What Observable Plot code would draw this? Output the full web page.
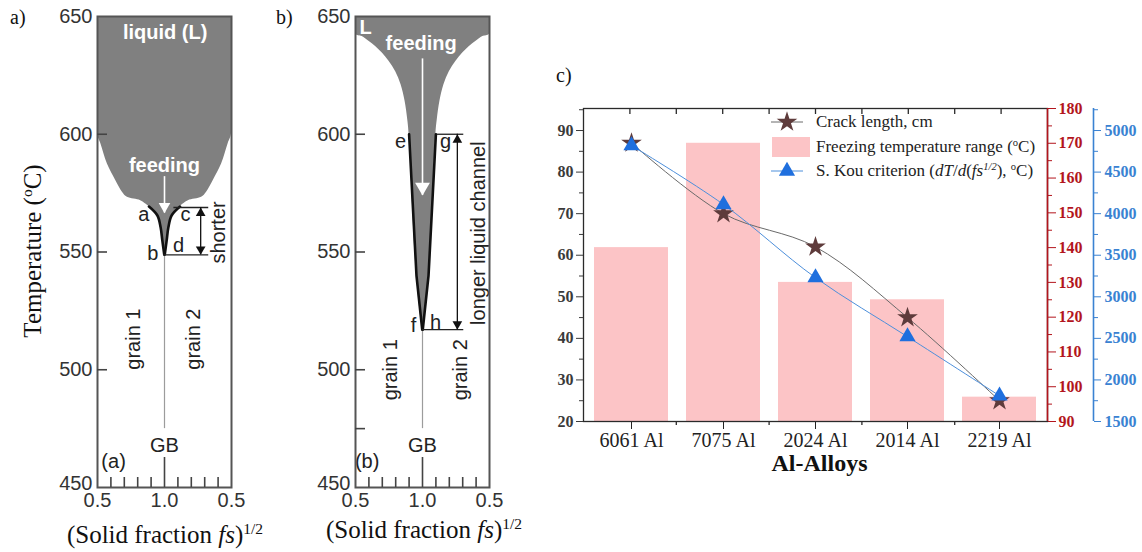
<!DOCTYPE html>
<html><head><meta charset="utf-8">
<script src="https://cdn.jsdelivr.net/npm/d3@7"></script>
<script src="https://cdn.jsdelivr.net/npm/@observablehq/plot@0.6"></script>
<style>
body{margin:0;background:#fff;}
#page{position:relative;width:1142px;height:552px;overflow:hidden;background:#fff;}
.lbl{position:absolute;font-family:"Liberation Serif","Times New Roman",serif;color:#111;white-space:nowrap;line-height:22px;}
sup{font-size:0.62em;vertical-align:0.55em;line-height:0;}
</style></head><body><div id="page"></div>
<script>
// ---------------- data ----------------
// panels a & b : temperature (°C) vs (solid fraction fs)^1/2
const tempTicks = [450, 500, 550, 600, 650];
const fsTicks = [0.5, 1.0, 1.5];            // shown as 0.5, 1.0, 0.5 (mirrored grain 2 side)
const fsMinorTicks = [0.6, 0.7, 0.8, 0.9, 1.1, 1.2, 1.3, 1.4];

// panel a: liquid boundary on grain-1 side (mirrored on grain-2 side)
const aLiquidT  = [650, 600.2, 596, 587.4, 580.4, 575.4, 573.2, 571.8, 570.4, 569.3, 565.5, 560.5, 554.8, 548.9];
const aLiquidFs = [0.5, 0.5, 0.525, 0.574, 0.636, 0.686, 0.723, 0.822, 0.86, 0.884, 0.947, 0.971, 0.984, 0.998];
const aChannelT  = [569.3, 565.5, 560.5, 554.8, 548.9];
const aChannelFs = [0.884, 0.947, 0.971, 0.984, 0.998];
const aLetters = [{t:"a", x:0.845, T:566}, {t:"c", x:1.157, T:566}, {t:"b", x:0.912, T:549.4}, {t:"d", x:1.105, T:552.7}];
const aGrains = [{t:"grain 1", x:0.772, T:513}, {t:"grain 2", x:1.217, T:513}];
const aBracket = {top:568.9, bottom:548.8, topFrom:1.07, bottomFrom:0.995, to:1.33, arrowX:1.27};

// panel b
const bLiquidT  = [650, 642.5, 641.5, 639.5, 637.3, 634.5, 631, 626.5, 621, 614, 606, 600, 540, 517];
const bLiquidFs = [0.5, 0.5, 0.55, 0.6, 0.65, 0.7, 0.75, 0.8, 0.84, 0.87, 0.89, 0.9, 0.955, 0.998];
const bChannelT  = [600, 540, 517];
const bChannelFs = [0.9, 0.955, 0.998];
const bLetters = [{t:"e", x:0.837, T:597}, {t:"g", x:1.173, T:597}, {t:"f", x:0.934, T:518.7}, {t:"h", x:1.098, T:520}];
const bGrains = [{t:"grain 1", x:0.762, T:500}, {t:"grain 2", x:1.286, T:500}];
const bBracket = {top:600, bottom:517, topFrom:1.111, bottomFrom:1.0, to:1.308, arrowX:1.26};

// panel c
const alloys = ["6061 Al", "7075 Al", "2024 Al", "2014 Al", "2219 Al"];
const crackLength   = [87, 70, 62, 45, 25];          // cm (left axis)
const freezingRange = [140, 170, 130, 125, 97];      // °C (red axis)
const kouCriterion  = [4820, 4110, 3230, 2520, 1810];// (blue axis)
const leftTicks = [20, 30, 40, 50, 60, 70, 80, 90];
const leftMinor = [25, 35, 45, 55, 65, 75, 85, 95];
const redTicks = [90, 100, 110, 120, 130, 140, 150, 160, 170, 180];
const redMinor = [95, 105, 115, 125, 135, 145, 155, 165, 175];
const blueTicks = [1500, 2000, 2500, 3000, 3500, 4000, 4500, 5000];
const blueMinor = [1750, 2250, 2750, 3250, 3750, 4250, 4750, 5250];

// ---------------- style ----------------
const RED = "#b3151d", BLUE = "#3a82d2", PINK = "#fcc4c6", GRAY = "#808080";
const serif = "'Liberation Serif', 'Times New Roman', serif";
const sans = "'Liberation Sans', Arial, Helvetica, sans-serif";
const page = document.getElementById("page");
function place(el, left, top) {
  el.style.position = "absolute"; el.style.left = left + "px"; el.style.top = (top || 0) + "px";
  page.appendChild(el); return el;
}
function html(content, left, top, extra) {
  const d = document.createElement("div");
  d.className = "lbl"; d.innerHTML = content;
  if (extra) d.style.cssText += extra;
  return place(d, left, top);
}
const tipOff = r => 1.556 * r;

function grainPanel(p) {
  const W = 280, H = 552, mt = 16, mb = 65;
  const fw = W - p.ml - p.mr, fh = H - mt - mb;
  const liquid = p.liqT.map((T, i) => ({T, left: p.liqFs[i], right: 2 - p.liqFs[i]}));
  const channel = p.chT.map((T, i) => ({T, left: p.chFs[i], right: 2 - p.chFs[i]}));
  const br = p.br;
  return Plot.plot({
    width: W, height: H, marginLeft: p.ml, marginRight: p.mr, marginTop: mt, marginBottom: mb,
    x: {domain: [0.5, 1.5], axis: null}, y: {domain: [450, 650], axis: null},
    style: {fontFamily: sans, fontSize: "20px", background: "transparent", overflow: "visible", color: "#333"},
    marks: [
      Plot.areaX(liquid, {y: "T", x1: "left", x2: "right", fill: GRAY, curve: "catmull-rom", clip: true}),
      Plot.ruleX([1], {y1: p.gb[0], y2: p.gb[1], stroke: "#9c9c9c", strokeWidth: 1.2}),
      Plot.line(channel, {x: "left", y: "T", stroke: "#111", strokeWidth: 2.6, curve: p.chCurve}),
      Plot.line(channel, {x: "right", y: "T", stroke: "#111", strokeWidth: 2.6, curve: p.chCurve}),
      // feeding arrow
      Plot.ruleX([1], {y1: p.feed[1], y2: p.feed[0], stroke: "#fff", strokeWidth: 1.6}),
      Plot.dot([p.feed[1]], {x: 1, y: d => d, symbol: "triangle", rotate: 180, fill: "#fff", r: p.headR, dy: -tipOff(p.headR)}),
      Plot.text([p.feedText], {x: "x", y: "T", text: "t", fill: "#fff", fontWeight: "bold", fontSize: 20}),
      Plot.text([p.liqText], {x: "x", y: "T", text: "t", fill: "#fff", fontWeight: "bold", fontSize: 20}),
      // bracket
      Plot.ruleY([br.top], {x1: br.topFrom, x2: br.to, stroke: "#222", strokeWidth: 1.3}),
      Plot.ruleY([br.bottom], {x1: br.bottomFrom, x2: br.to, stroke: "#222", strokeWidth: 1.3}),
      Plot.ruleX([br.arrowX], {y1: br.bottom, y2: br.top, stroke: "#111", strokeWidth: 1.3}),
      Plot.dot([br.top], {x: br.arrowX, y: d => d, symbol: "triangle", fill: "#111", r: 3.6, dy: tipOff(3.6)}),
      Plot.dot([br.bottom], {x: br.arrowX, y: d => d, symbol: "triangle", rotate: 180, fill: "#111", r: 3.6, dy: -tipOff(3.6)}),
      Plot.text([p.side], {x: "x", y: "T", text: "t", rotate: -90, fill: "#222", fontSize: 20}),
      Plot.text(p.letters, {x: "x", y: "T", text: "t", fill: "#222", fontSize: 20}),
      Plot.text(p.grains, {x: "x", y: "T", text: "t", rotate: -90, fill: "#222", fontSize: 20}),
      Plot.text([{t: "GB", x: 1, T: 467.7}, {t: p.tag, x: p.tagX, T: 461}], {x: "x", y: "T", text: "t", fill: "#222", fontSize: 20}),
      // frame & axes
      Plot.frame({stroke: "#555", strokeWidth: 2}),
      Plot.tickY(p.yTicks, {y: d => d, insetRight: fw - 10, stroke: "#444", strokeWidth: 1.6}),
      Plot.text(tempTicks.slice(1), {y: d => d, frameAnchor: "left", textAnchor: "end", dx: -5, text: d => String(d), fill: "#333", fontSize: 20}),
      Plot.text(tempTicks.slice(0, 1), {y: d => d, frameAnchor: "left", textAnchor: "end", dx: -5, dy: -4, text: d => String(d), fill: "#333", fontSize: 20}),
      Plot.tickX(fsMinorTicks, {x: d => d, insetTop: fh - 10, stroke: "#444", strokeWidth: 1.6}),
      Plot.tickX([1], {x: d => d, insetTop: fh - 30, stroke: "#444", strokeWidth: 1.6}),
      Plot.text(fsTicks, {x: d => d, frameAnchor: "bottom", dy: 19, text: d => (d <= 1 ? d : 2 - d).toFixed(1), fill: "#333", fontSize: 20})
    ]
  });
}

// panel a
place(grainPanel({
  ml: 97, mr: 49, liqT: aLiquidT, liqFs: aLiquidFs, chT: aChannelT, chFs: aChannelFs, chCurve: "catmull-rom",
  gb: [475, 549], feed: [582, 566.5], headR: 4.3,
  feedText: {t: "feeding", x: 1, T: 586.6}, liqText: {t: "liquid (L)", x: 1.005, T: 643},
  br: aBracket, side: {t: "shorter", x: 1.404, T: 558.3}, letters: aLetters, grains: aGrains,
  tag: "(a)", tagX: 0.62, yTicks: [500, 550, 600]
}), 0, 0);
// panel b
place(grainPanel({
  ml: 95, mr: 51, liqT: bLiquidT, liqFs: bLiquidFs, chT: bChannelT, chFs: bChannelFs, chCurve: "linear",
  gb: [475, 517], feed: [632, 574], headR: 5.5,
  feedText: {t: "feeding", x: 0.99, T: 638.5}, liqText: {t: "L", x: 0.575, T: 645.5},
  br: bBracket, side: {t: "longer liquid channel", x: 1.42, T: 558}, letters: bLetters, grains: bGrains,
  tag: "(b)", tagX: 0.587, yTicks: [475, 500, 550, 600]
}), 260, 0);

// panel c layers
const C = {width: 1142, height: 552, marginLeft: 583, marginRight: 95, marginTop: 108, marginBottom: 131};
const FH = C.height - C.marginTop - C.marginBottom;
const cStyle = {fontFamily: serif, background: "transparent", overflow: "visible"};
const xBand = () => ({domain: alloys, paddingInner: 0.2, paddingOuter: 0.1, axis: null, label: null});
const rows = alloys.map((a, i) => ({alloy: a, crack: crackLength[i], range: freezingRange[i], kou: kouCriterion[i]}));
const centers = alloys.map((a, i) => (i + 0.5) / alloys.length);
const bounds = d3.range(1, alloys.length).map(i => i / alloys.length);
const plain = d => String(d);

place(Plot.plot({...C, x: xBand(), y: {domain: [90, 180], axis: null, label: null}, style: cStyle,
  marks: [
    Plot.barY(rows, {x: "alloy", y1: 90, y2: "range", fill: PINK}),
    Plot.axisX({anchor: "bottom", tickSize: 8, tickPadding: 3, fontSize: 20, fontFamily: serif, color: "#222", label: null}),
    Plot.axisY(redTicks, {anchor: "right", tickSize: 8, tickPadding: 3, fontSize: 16, fontWeight: "bold", fontFamily: serif, color: RED, label: null, tickFormat: plain}),
    Plot.axisY(redMinor, {anchor: "right", tickSize: 4, tickFormat: () => "", color: RED, label: null}),
    Plot.text(["Al-Alloys"], {frameAnchor: "bottom", dx: 4, dy: 49, fontSize: 24, fontWeight: "bold", fontFamily: serif, fill: "#111"})
  ]}), 0, 0);

place(Plot.plot({...C, x: {domain: [0, 1], axis: null}, y: {domain: [0, 1], axis: null}, style: cStyle,
  marks: [
    Plot.frame({stroke: "#2a2a2a", strokeWidth: 1.3}),
    Plot.ruleX([1], {stroke: RED, strokeWidth: 1.6}),
    Plot.tickX([...centers, ...bounds], {x: d => d, insetBottom: FH - 6, stroke: "#2a2a2a", strokeWidth: 1.3}),
    Plot.tickX(bounds, {x: d => d, insetTop: FH, insetBottom: -4, stroke: "#2a2a2a", strokeWidth: 1.3})
  ]}), 0, 0);

place(Plot.plot({...C, x: xBand(), y: {domain: [20, 95.3], axis: null, label: null}, style: cStyle,
  marks: [
    Plot.axisY(leftTicks, {anchor: "left", tickSize: 7, tickPadding: 3, fontSize: 16, fontWeight: "bold", fontFamily: serif, color: "#3a3a3a", label: null, tickFormat: plain}),
    Plot.axisY(leftMinor, {anchor: "left", tickSize: 4, tickFormat: () => "", color: "#3a3a3a", label: null}),
    Plot.line(rows, {x: "alloy", y: "crack", stroke: "#6a6a6a", strokeWidth: 1, curve: "catmull-rom"}),
    Plot.dot(rows, {x: "alloy", y: "crack", symbol: "star", fill: "#5e3b3b", r: 6.5})
  ]}), 0, 0);

place(Plot.plot({...C, x: xBand(), y: {domain: [1500, 5265], axis: null, label: null}, style: cStyle,
  marks: [
    Plot.line(rows, {x: "alloy", y: "kou", stroke: "#4d8fdb", strokeWidth: 1, curve: "catmull-rom"}),
    Plot.dot(rows, {x: "alloy", y: "kou", symbol: "triangle", fill: "#1f6fde", r: 6})
  ]}), 0, 0);

place(Plot.plot({...C, marginRight: 49, x: {domain: [0, 1], axis: null}, y: {domain: [1500, 5265], axis: null, label: null}, style: cStyle,
  marks: [
    Plot.ruleX([1], {stroke: BLUE, strokeWidth: 1.6}),
    Plot.axisY(blueTicks, {anchor: "right", tickSize: 7, tickPadding: 4, fontSize: 16, fontWeight: "bold", fontFamily: serif, color: BLUE, label: null, tickFormat: plain}),
    Plot.axisY(blueMinor, {anchor: "right", tickSize: 4, tickFormat: () => "", color: BLUE, label: null})
  ]}), 0, 0);

// legend (panel c)
function sym(type, fill, stroke, r, rect) {
  const s = d3.create("svg").attr("width", 40).attr("height", 22);
  if (rect) s.append("rect").attr("x", 1).attr("y", 1).attr("width", 38).attr("height", 20).attr("fill", fill);
  else {
    s.append("line").attr("x1", 0).attr("x2", 32).attr("y1", 11).attr("y2", 11).attr("stroke", stroke).attr("stroke-width", 1);
    s.append("path").attr("transform", "translate(16,11)").attr("d", d3.symbol(type, Math.PI * r * r)()).attr("fill", fill);
  }
  return s.node();
}
const legendRows = [
  {y: 122, el: sym(d3.symbolStar, "#5e3b3b", "#6a6a6a", 6.5), text: "Crack length, cm"},
  {y: 146.5, el: sym(null, PINK, null, 0, true), text: "Freezing temperature range (<sup>o</sup>C)"},
  {y: 171, el: sym(d3.symbolTriangle, "#1f6fde", "#4d8fdb", 6), text: "S. Kou criterion (<i>dT</i>/<i>d</i>(<i>fs</i><sup><i>1/2</i></sup>), <sup>o</sup>C)"}
];
legendRows.forEach(r => {
  place(r.el, 771, r.y - 11);
  html(r.text, 816, r.y - 11, "font-size:17px;color:#222;");
});

// panel letters and axis titles
html("a)", 10, 6, "font-size:20px;");
html("b)", 276, 6, "font-size:20px;");
html("c)", 556, 64, "font-size:20px;");
html("Temperature (<sup>o</sup>C)", 33, 251, "font-size:25px;transform:translate(-50%,-50%) rotate(-90deg);");
html("(Solid fraction <i>fs</i>)<sup>1/2</sup>", 165, 524, "font-size:25px;transform:translateX(-50%);");
html("(Solid fraction <i>fs</i>)<sup>1/2</sup>", 424, 519, "font-size:25px;transform:translateX(-50%);");
</script></body></html>
